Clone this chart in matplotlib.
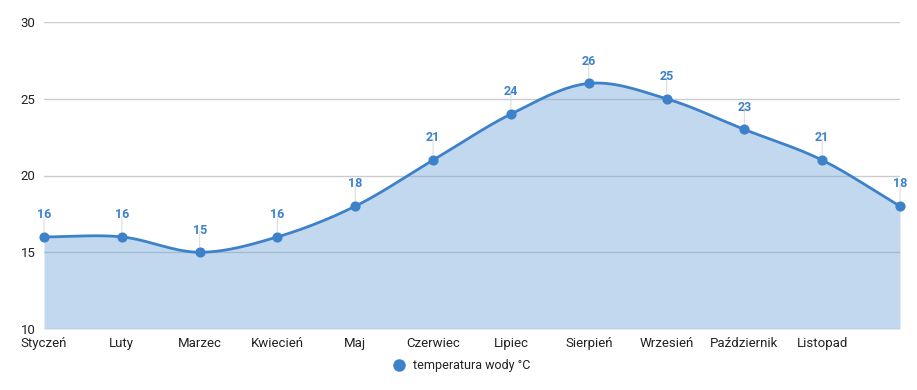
import numpy as np
import matplotlib
matplotlib.use("Agg")
import matplotlib.pyplot as plt
from matplotlib.lines import Line2D

plt.rcParams['font.family'] = ['Roboto', 'DejaVu Sans']

months = ["Styczeń", "Luty", "Marzec", "Kwiecień", "Maj", "Czerwiec", "Lipiec",
          "Sierpień", "Wrzesień", "Październik", "Listopad", ""]
temps = [16, 16, 15, 16, 18, 21, 24, 26, 25, 23, 21, 18]
series_name = "temperatura wody °C"

blue = "#3d82c9"

x = np.arange(len(temps))
y = np.array(temps, dtype=float)

# smooth curve through the points (cubic hermite, catmull-rom style tangents)
m = np.zeros_like(y)
m[1:-1] = (y[2:] - y[:-2]) / 2
m[0] = (y[1] - y[0])
m[-1] = (y[-1] - y[-2])
xs, ys = [], []
for i in range(len(x) - 1):
    t = np.linspace(0, 1, 30)
    h00 = 2*t**3 - 3*t**2 + 1
    h10 = t**3 - 2*t**2 + t
    h01 = -2*t**3 + 3*t**2
    h11 = t**3 - t**2
    xs.extend(x[i] + t)
    ys.extend(h00*y[i] + h10*m[i] + h01*y[i+1] + h11*m[i+1])
xs = np.array(xs)
ys = np.array(ys)

fig = plt.figure(figsize=(9.17, 3.9), dpi=100)
ax = fig.add_axes([44/917, 1-329/390, 856/917, 307/390])

ax.set_xlim(0, len(temps) - 1)
ax.set_ylim(10, 30)
ax.set_yticks([10, 15, 20, 25, 30])
ax.set_xticks(x)
ax.set_xticklabels(months)
ax.grid(axis='y', color='#cccccc', linewidth=1, zorder=0)
ax.set_axisbelow(True)

ax.fill_between(xs, 10, ys, color='#6fa3d8', alpha=0.42, linewidth=0, zorder=1)
ax.plot(xs, ys, color=blue, linewidth=2, zorder=3, clip_on=False)
ax.scatter(x, y, s=40, color=blue, zorder=4, clip_on=False)

for xi, yi in zip(x, y):
    ax.annotate("", xy=(xi, yi), xytext=(0, 15), textcoords='offset points',
                arrowprops=dict(arrowstyle='-', color='#dddddd', lw=0.8,
                                shrinkA=0, shrinkB=4), zorder=2)
    ax.annotate(f"{int(yi)}", xy=(xi, yi), xytext=(0, 16), textcoords='offset points',
                ha='center', va='center', color=blue, fontsize=9,
                fontweight='bold', zorder=5, annotation_clip=False)

for s in ax.spines.values():
    s.set_visible(False)
ax.tick_params(length=0, labelsize=9.5, colors='#222222')
ax.tick_params(axis='x', pad=6)
ax.tick_params(axis='y', pad=6)
for lbl in ax.get_yticklabels():
    lbl.set_verticalalignment('center_baseline')

handle = Line2D([], [], marker='o', linestyle='none', color=blue, markersize=8)
fig.legend([handle], [series_name], loc='center', bbox_to_anchor=(0.5, 1-366/390),
           frameon=False, fontsize=9, handletextpad=0.1, labelcolor='#222222')

fig.savefig("out.png", dpi=100)
